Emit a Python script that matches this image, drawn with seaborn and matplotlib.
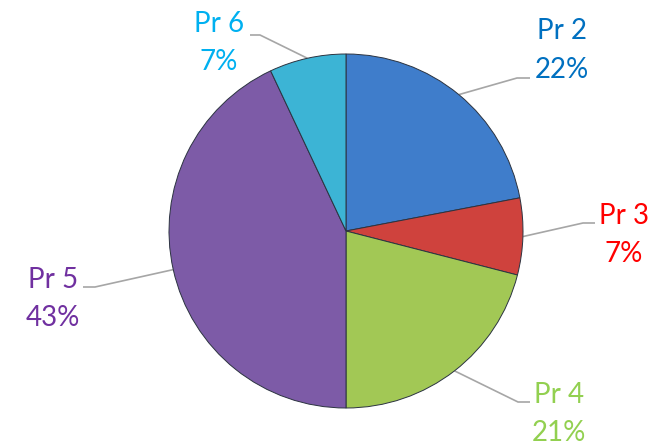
import numpy as np
import matplotlib
matplotlib.use("Agg")
import matplotlib.pyplot as plt
import seaborn as sns

# ---- data ----
categories = ["Pr 2", "Pr 3", "Pr 4", "Pr 5", "Pr 6"]
values = [22, 7, 21, 43, 7]
pct_labels = ["22%", "7%", "21%", "43%", "7%"]
slice_colors = ["#3F7DCB", "#CF423D", "#A2C855", "#7D5BA7", "#3CB4D5"]
label_colors = ["#0070C0", "#FF0000", "#92D050", "#7030A0", "#00B0F0"]

sns.set_theme(style="white")
plt.rcParams['font.family'] = ['Lato', 'DejaVu Sans']

W, H = 659, 447
fig = plt.figure(figsize=(W / 100, H / 100), dpi=100)
ax = fig.add_axes([0, 0, 1, 1])
ax.set_xlim(0, W)
ax.set_ylim(0, H)
ax.set_aspect('equal')
ax.axis('off')

def Y(py):
    return H - py

cx, cy, r = 346, Y(231), 177

wedges, _ = ax.pie(values, colors=slice_colors, startangle=90, counterclock=False,
                   center=(cx, cy), radius=r,
                   wedgeprops=dict(edgecolor="#2b3340", linewidth=0.7))
ax.set_xlim(0, W)
ax.set_ylim(0, H)

# layout for labels (pixel positions): text center x, name baseline, pct baseline, elbow, end
label_layout = [
    (562, 39, 78, (517, 78), (530, 78)),
    (624, 224, 262, (583, 223), (595, 223)),
    (559, 403, 441, (518, 402), (530, 402)),
    (53, 288, 326, (95, 287), (83, 287)),
    (219, 32, 70, (260, 35), (250, 35)),
]

for w, name, pct, lc, (tx, nb, pb, elbow, end) in zip(wedges, categories, pct_labels,
                                                      label_colors, label_layout):
    mid = np.deg2rad((w.theta1 + w.theta2) / 2)
    sx, sy = cx + r * np.cos(mid), cy + r * np.sin(mid)
    ax.plot([sx, elbow[0], end[0]], [sy, Y(elbow[1]), Y(end[1])],
            color="#A6A6A6", lw=1.2, solid_capstyle='butt', zorder=0.5)
    ax.text(tx, Y(nb), name, color=lc, fontsize=20, ha='center', va='baseline')
    ax.text(tx, Y(pb), pct, color=lc, fontsize=20, ha='center', va='baseline')

fig.savefig("out.png", dpi=100)
